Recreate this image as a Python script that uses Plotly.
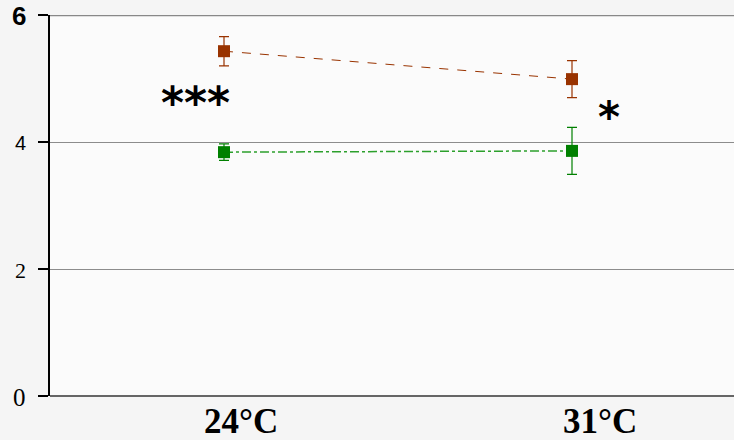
import plotly.graph_objects as go

categories = ["24°C", "31°C"]
x_pos = [0, 1]
red_vals = [5.43, 4.99]
red_err = [0.23, 0.29]
green_vals = [3.84, 3.86]
green_err = [0.13, 0.37]
y_ticks = [0, 2, 4, 6]
y_labels = ["0", "2", "4", "6"]

fig = go.Figure()
fig.add_trace(go.Scatter(
    x=x_pos, y=red_vals, mode="lines+markers",
    line=dict(color="#993300", width=1, dash="dash"),
    marker=dict(symbol="square", size=12, color="#993300"),
    error_y=dict(type="data", array=red_err, color="#993300", thickness=1.2, width=5),
    showlegend=False,
))
fig.add_trace(go.Scatter(
    x=x_pos, y=green_vals, mode="lines+markers",
    line=dict(color="#2ca02c", width=1.5, dash="dashdot"),
    marker=dict(symbol="square", size=12, color="#008000"),
    error_y=dict(type="data", array=green_err, color="#008000", thickness=1.2, width=5),
    showlegend=False,
))

fig.add_annotation(x=-0.082, y=4.62, text="<b>***</b>", showarrow=False,
                   font=dict(family="DejaVu Sans", size=44, color="black"))
fig.add_annotation(x=1.106, y=4.38, text="<b>*</b>", showarrow=False,
                   font=dict(family="DejaVu Sans", size=42, color="black"))

# x category labels (drawn slightly right of the points, as in the original)
label_offsets = [0.049, 0.080]
for xp, cat, off in zip(x_pos, categories, label_offsets):
    fig.add_annotation(x=xp + off, xref="x", y=0, yref="paper", yanchor="top",
                       yshift=-4, text=f"<b>{cat}</b>", showarrow=False,
                       font=dict(family="Liberation Serif", size=35, color="black"))

# y tick labels with mixed fonts, as in the original
label_fonts = {
    "0": dict(family="Liberation Serif", size=25),
    "2": dict(family="Liberation Serif", size=22),
    "4": dict(family="Liberation Sans", size=20),
    "6": dict(family="Liberation Sans", size=26),
}
for yv, lbl in zip(y_ticks, y_labels):
    f = label_fonts[lbl]
    fig.add_annotation(x=0, xref="paper", xanchor="right", xshift=-22,
                       y=yv, yref="y", yanchor="middle", yshift=-1,
                       text=("<b>%s</b>" % lbl) if lbl == "6" else lbl, showarrow=False,
                       font=dict(family=f["family"], size=f["size"], color="black"))

fig.update_layout(
    width=734, height=440,
    margin=dict(l=50, r=0, t=15, b=44),
    paper_bgcolor="#f5f5f5",
    plot_bgcolor="#fbfbfb",
    xaxis=dict(
        range=[-0.5, 1.4655], tickvals=x_pos, showticklabels=False,
        showgrid=False, zeroline=False, showline=False, ticks="",
    ),
    yaxis=dict(
        range=[0, 6], tickvals=y_ticks, showticklabels=False,
        showgrid=True, gridcolor="#8c8c8c", gridwidth=1,
        zeroline=True, zerolinecolor="#666666", zerolinewidth=2,
        showline=True, linecolor="black", linewidth=2,
        ticks="outside", ticklen=10, tickcolor="black", tickwidth=2,
    ),
)
fig.add_shape(type="line", xref="paper", yref="y", x0=0, x1=1, y0=6, y1=6,
              line=dict(color="#888888", width=2.5))

fig.write_html("out.html", config={"displayModeBar": False},
               post_script="document.body.style.margin='0';document.body.style.background='#f5f5f5';")
